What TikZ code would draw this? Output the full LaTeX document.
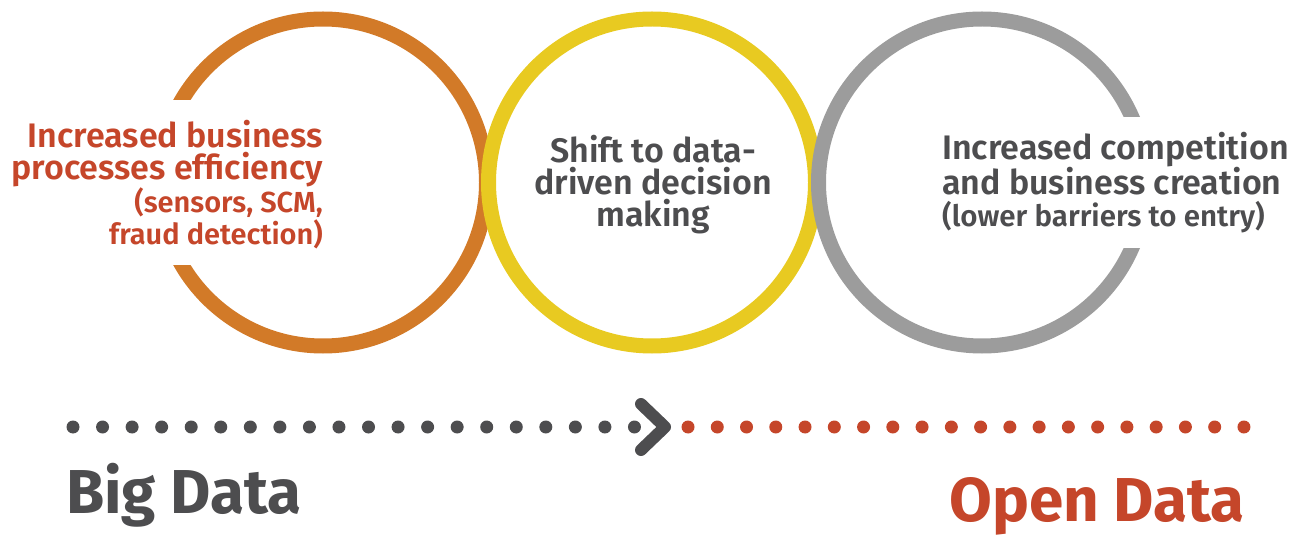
\documentclass[tikz,border=0pt]{standalone}
\usepackage{fontspec}
\setmainfont{Fira Sans}
\newfontfamily\midfont{Fira Sans SemiBold}
\usepackage{xcolor}
\usetikzlibrary{positioning}
\definecolor{ringorange}{HTML}{D27A28}
\definecolor{ringyellow}{HTML}{E8CA21}
\definecolor{ringgray}{HTML}{9C9C9C}
\definecolor{textred}{HTML}{C5462A}
\definecolor{textdark}{HTML}{4D4D4F}

\begin{document}
\begin{tikzpicture}[x=1pt,y=-1pt,
  ring/.style={line width=15pt},
  ringtext/.style={inner sep=0pt, font=\midfont\fontsize{34}{32}\selectfont},
  bigtext/.style={inner sep=0pt, font=\bfseries\fontsize{62}{62}\selectfont}]
\useasboundingbox (0,0) rectangle (1293,537);
% rings
\draw[ring, ringorange](323,182.5) circle[radius=163.5pt];
\draw[ring, ringyellow](652,182.5) circle[radius=163.5pt];
\draw[ring, ringgray](982,182.5) circle[radius=163.5pt];
\fill[white](135,100) rectangle (205,265);
\fill[white](1105,117) rectangle (1175,248);
% texts (base = last line)
\node[ringtext, text=textred, align=right, anchor=base east] (Efficiency) at (323,245) {Increased business\\processes efficiency\\{\midfont\fontsize{29}{32}\selectfont(sensors, SCM,}\\{\midfont\fontsize{29}{32}\selectfont fraud detection)}};
\node[ringtext, text=textdark, align=center, anchor=base] (Decision) at (653,227) {Shift to data-\\driven decision\\making};
\node[ringtext, text=textdark, align=left, anchor=base west] (Competition) at (942,227) {Increased competition\\and business creation\\{\midfont\fontsize{29.5}{32}\selectfont(lower barriers to entry)}};
% dotted timeline
\foreach \x in {0,...,19}\fill[textdark] (73+29.55*\x,427) circle[radius=6.5pt];
\foreach \x in {0,...,19}\fill[textred] (688+29.26*\x,427) circle[radius=6.5pt];
\coordinate (TipTop) at (641,404);
\coordinate (Tip) at (665,427);
\coordinate (TipBottom) at (641,450);
\draw[textdark, line width=12pt, line cap=round, line join=round](TipTop) -- (Tip) -- (TipBottom);
\node[bigtext, text=textdark, anchor=base west] (BigLabel) at (66,513) {Big Data};
\node[bigtext, text=textred, anchor=base east] (OpenLabel) at (1245,521) {Open Data};
\end{tikzpicture}
\end{document}
